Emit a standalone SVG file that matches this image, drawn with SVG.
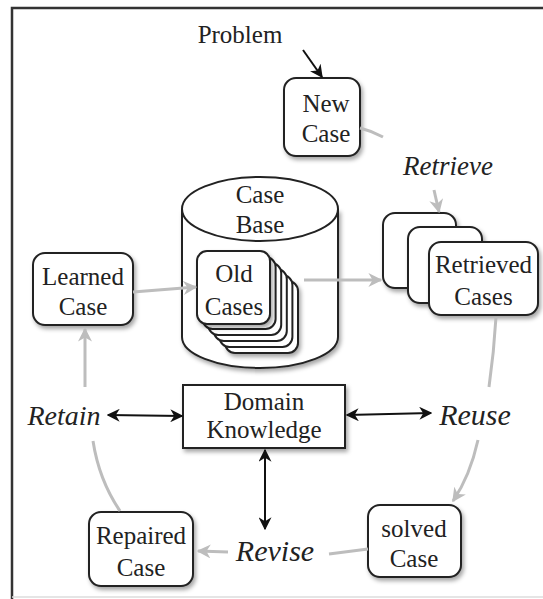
<svg xmlns="http://www.w3.org/2000/svg" width="543" height="599" viewBox="0 0 543 599">
<style>
text{font-family:"Liberation Serif","Times New Roman",serif;fill:#222;text-anchor:middle}
.lbl{font-size:25px}
.it{font-style:italic}
.box{fill:#fff;stroke:#222;stroke-width:2}
.g{fill:none;stroke:#bdbdbd;stroke-width:3}
.k{fill:none;stroke:#111;stroke-width:2}
</style>
<defs>
<filter id="sh" x="-20%" y="-20%" width="150%" height="150%">
<feDropShadow dx="2" dy="3" stdDeviation="2" flood-color="#000" flood-opacity="0.35"/>
</filter>
<marker id="ag" markerUnits="userSpaceOnUse" markerWidth="14" markerHeight="14" viewBox="0 0 10 10" refX="9" refY="5" orient="auto">
<path d="M0,0 L10,5 L0,10 L3,5 z" fill="#bdbdbd"/>
</marker>
<marker id="ak" markerUnits="userSpaceOnUse" markerWidth="13" markerHeight="13" viewBox="0 0 10 10" refX="9" refY="5" orient="auto-start-reverse">
<path d="M0,0 L10,5 L0,10 L3,5 z" fill="#111"/>
</marker>
</defs>
<rect width="543" height="599" fill="#fff"/>
<path d="M543,8 H12 V599" fill="none" stroke="#333" stroke-width="2.5"/>
<line x1="12" y1="597" x2="543" y2="597" stroke="#ddd" stroke-width="1.5"/>

<g id="problem">
<text class="lbl" x="240" y="43">Problem</text>
</g>

<g id="new-case">
<rect class="box" x="284" y="78" width="76" height="78" rx="12" filter="url(#sh)"/>
<text class="lbl" x="326" y="112">New</text>
<text class="lbl" x="326" y="142">Case</text>
</g>

<g id="retrieve">
<text class="lbl it" x="448" y="175" font-size="27px" style="font-size:27px">Retrieve</text>
</g>

<g id="case-base">
<path d="M182,209 V337 A78,31 0 0 0 338,337 V209" fill="#fff" stroke="#222" stroke-width="2" filter="url(#sh)"/>
<ellipse cx="260" cy="209" rx="78" ry="32" fill="#fff" stroke="#222" stroke-width="2"/>
<text class="lbl" x="260" y="203">Case</text>
<text class="lbl" x="260" y="233">Base</text>
</g>

<g id="old-cases">
<rect class="box" x="225" y="281" width="73" height="72" rx="10" stroke-width="1.5" filter="url(#sh)"/>
<rect class="box" x="219.4" y="275" width="73" height="72" rx="10" stroke-width="1.5"/>
<rect class="box" x="213.8" y="269" width="73" height="72" rx="10" stroke-width="1.5"/>
<rect class="box" x="208.2" y="263" width="73" height="72" rx="10" stroke-width="1.5"/>
<rect class="box" x="202.6" y="257" width="73" height="72" rx="10" stroke-width="1.5"/>
<rect class="box" x="197" y="251" width="73" height="73" rx="10" filter="url(#sh)"/>
<text class="lbl" x="234" y="282">Old</text>
<text class="lbl" x="234" y="315">Cases</text>
</g>

<g id="learned-case">
<rect class="box" x="33" y="253" width="100" height="72" rx="12" filter="url(#sh)"/>
<text class="lbl" x="83" y="285">Learned</text>
<text class="lbl" x="83" y="315">Case</text>
</g>

<g id="retrieved-cases">
<rect class="box" x="383" y="213" width="73" height="75" rx="12" filter="url(#sh)"/>
<rect class="box" x="408" y="227" width="74" height="76" rx="12" filter="url(#sh)"/>
<rect class="box" x="429" y="242" width="109" height="73" rx="12" filter="url(#sh)"/>
<text class="lbl" x="483.5" y="273">Retrieved</text>
<text class="lbl" x="483.5" y="305">Cases</text>
</g>

<g id="domain-knowledge">
<rect x="183" y="385" width="162" height="63" fill="#fff" stroke="#222" stroke-width="2" filter="url(#sh)"/>
<text class="lbl" x="264" y="410">Domain</text>
<text class="lbl" x="264" y="438">Knowledge</text>
</g>

<g id="retain">
<text class="it" x="64" y="425" style="font-size:28px">Retain</text>
</g>

<g id="reuse">
<text class="it" x="475" y="425" style="font-size:30px">Reuse</text>
</g>

<g id="revise">
<text class="it" x="275" y="561" style="font-size:30px">Revise</text>
</g>

<g id="repaired-case">
<rect class="box" x="89" y="512" width="104" height="74" rx="12" filter="url(#sh)"/>
<text class="lbl" x="141" y="544">Repaired</text>
<text class="lbl" x="141" y="576">Case</text>
</g>

<g id="solved-case">
<rect class="box" x="368" y="505" width="93" height="72" rx="12" filter="url(#sh)"/>
<text class="lbl" x="414" y="537">solved</text>
<text class="lbl" x="414" y="567">Case</text>
</g>

<g id="connectors">
<line class="k" x1="303" y1="50" x2="322" y2="77" marker-end="url(#ak)"/>
<path class="g" d="M360,128 Q372,131 383,137"/>
<line class="g" x1="434" y1="190" x2="439" y2="212" marker-end="url(#ag)"/>
<line class="g" x1="304" y1="280" x2="381" y2="280" marker-end="url(#ag)"/>
<line class="g" x1="133" y1="292" x2="196" y2="287" marker-end="url(#ag)"/>
<path class="g" d="M496,317 Q494,352 489,387"/>
<path class="g" d="M478,440 Q470,476 453,501" marker-end="url(#ag)"/>
<line class="g" x1="368" y1="549" x2="329" y2="554"/>
<line class="g" x1="228" y1="552" x2="198" y2="551" marker-end="url(#ag)"/>
<path class="g" d="M120,511 Q99,480 93,441"/>
<line class="g" x1="85" y1="387" x2="85" y2="329" marker-end="url(#ag)"/>
<line class="k" x1="108" y1="415" x2="182" y2="416" marker-start="url(#ak)" marker-end="url(#ak)"/>
<line class="k" x1="347" y1="415" x2="431" y2="413" marker-start="url(#ak)" marker-end="url(#ak)"/>
<line class="k" x1="265" y1="450" x2="265" y2="529" marker-start="url(#ak)" marker-end="url(#ak)"/>
</g>
</svg>
